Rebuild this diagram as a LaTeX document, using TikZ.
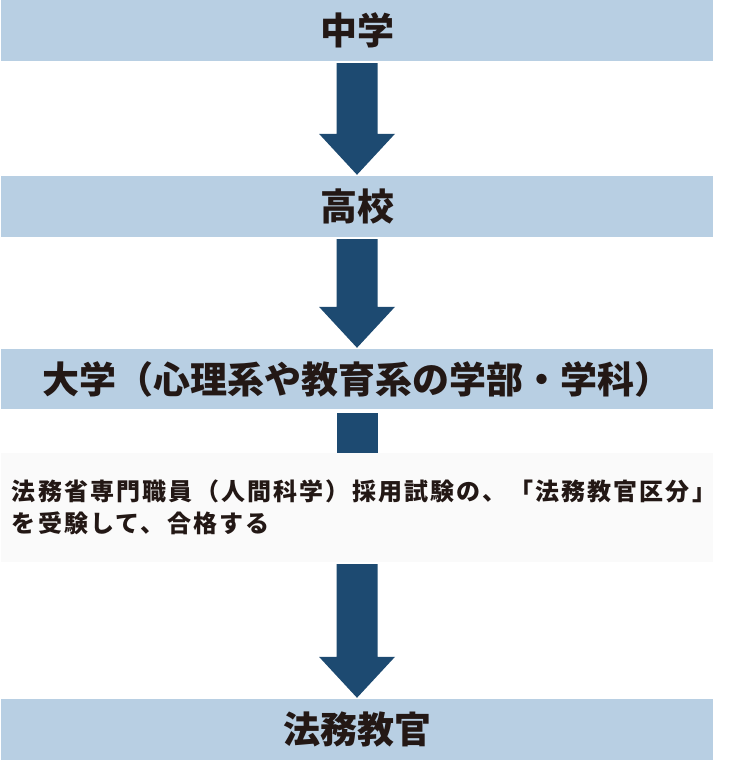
\documentclass[tikz,border=0pt]{standalone}
\usepackage{fontspec}
\setmainfont{Noto Sans CJK JP}
\newfontfamily\jpsp{Noto Sans CJK JP}[LetterSpace=9]
\usetikzlibrary{calc}
\definecolor{boxblue}{HTML}{B8CFE3}
\definecolor{arrowblue}{HTML}{1D4A71}
\definecolor{textcol}{HTML}{231815}
\definecolor{graybox}{HTML}{FAFAFA}
\tikzset{
  stagebox/.style={fill=boxblue, draw=none, minimum width=712pt, inner sep=0pt,
    text=textcol, font=\fontsize{37pt}{42pt}\selectfont\bfseries},
  notebox/.style={fill=graybox, draw=none, minimum width=712pt, minimum height=109pt,
    text width=690pt, inner xsep=11pt, inner ysep=0pt, align=left, text=textcol,
    font=\jpsp\fontsize{24pt}{32pt}\selectfont\bfseries},
  bigarrow/.style={fill=arrowblue, draw=none}
}
\newcommand\flowarrow[2]{%
  \fill[bigarrow] let \p1=(#1.south), \p2=(#2.north) in
    (\x1-20.5pt,\y1-2pt) -- (\x1+20.5pt,\y1-2pt) -- (\x1+20.5pt,\y2+42pt) --
    (\x1+38pt,\y2+42pt) -- (\x1,\y2+1pt) -- (\x1-38pt,\y2+42pt) --
    (\x1-20.5pt,\y2+42pt) -- cycle;}
\begin{document}
\begin{tikzpicture}[x=1pt,y=1pt]
\useasboundingbox (0,0) rectangle (736,761);
\fill[white] (0,0) rectangle (736,761);
\node[stagebox, minimum height=61pt] (s1) at (357,730.5) {中学};
\node[stagebox, minimum height=61pt] (s2) at (357,554.5) {高校};
\node[stagebox, minimum height=60pt] (s3) at (357,382) {大学（心理系や教育系の学部・学科）};
\node[notebox] (s4) at (357,253.5) {法務省専門職員（人間科学）採用試験の、「法務教官区分」\\を受験して、合格する};
\node[stagebox, minimum height=61pt] (s5) at (357,31.5) {法務教官};
\flowarrow{s1}{s2}
\flowarrow{s2}{s3}
\fill[bigarrow] ([xshift=-20.5pt,yshift=-4pt]s3.south) rectangle ([xshift=20.5pt]s4.north);
\flowarrow{s4}{s5}
\end{tikzpicture}
\end{document}
